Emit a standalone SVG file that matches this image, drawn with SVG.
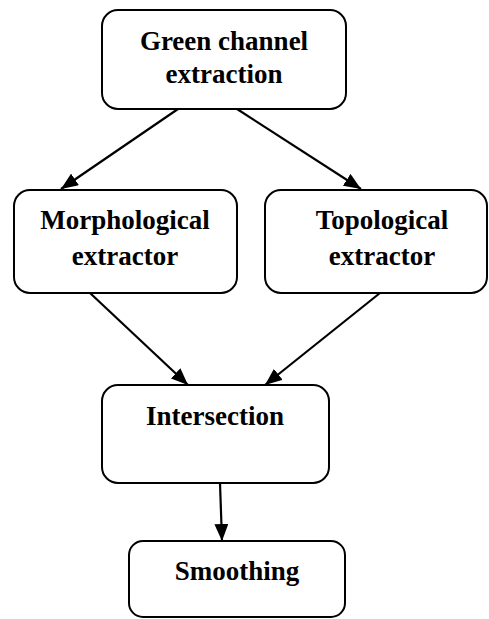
<svg xmlns="http://www.w3.org/2000/svg" width="489" height="619" viewBox="0 0 489 619">
<style>
.box{fill:#fff;stroke:#000;stroke-width:2}
.t{font-family:"Liberation Serif","Times New Roman",serif;font-weight:bold;font-size:27px;text-anchor:middle;fill:#000}
.c{stroke:#000;stroke-width:2.2;fill:none;marker-end:url(#ah)}
</style>
<defs>
<marker id="ah" markerWidth="17" markerHeight="14" refX="17" refY="7" orient="auto" markerUnits="userSpaceOnUse">
<path d="M0,0 L17,7 L0,14 Z" fill="#000"/>
</marker>
</defs>
<g id="connectors">
<line class="c" x1="178" y1="109" x2="61" y2="189"/>
<line class="c" x1="237" y1="109" x2="361" y2="189"/>
<line class="c" x1="90" y1="293" x2="188" y2="385"/>
<line class="c" x1="380" y1="293" x2="265" y2="385"/>
<line class="c" x1="220" y1="483" x2="222" y2="541"/>
</g>
<g id="green">
<rect class="box" x="102" y="10" width="244" height="99" rx="16"/>
<text class="t" x="224" y="50">Green channel</text>
<text class="t" x="224" y="83">extraction</text>
</g>
<g id="morph">
<rect class="box" x="14" y="190" width="223" height="103" rx="16"/>
<text class="t" x="125" y="229">Morphological</text>
<text class="t" x="125" y="265">extractor</text>
</g>
<g id="topo">
<rect class="box" x="265" y="190" width="222" height="103" rx="16"/>
<text class="t" x="382" y="229">Topological</text>
<text class="t" x="382" y="265">extractor</text>
</g>
<g id="intersection">
<rect class="box" x="102" y="385" width="227" height="98" rx="16"/>
<text class="t" x="215" y="425">Intersection</text>
</g>
<g id="smoothing">
<rect class="box" x="129" y="541" width="216" height="76" rx="14"/>
<text class="t" x="237" y="580">Smoothing</text>
</g>
</svg>
